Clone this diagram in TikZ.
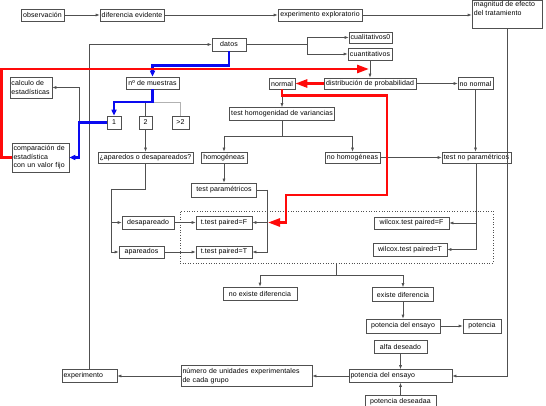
\documentclass[tikz,border=0pt]{standalone}
\usepackage{fontspec}
\setmainfont{Liberation Sans}[LetterSpace=1.5]
\usepackage{tikz}
\usetikzlibrary{arrows.meta}
\definecolor{cLine}{HTML}{505050}
\definecolor{cRed}{HTML}{FF0A0A}
\definecolor{cBlue}{HTML}{0A0AF0}

\begin{document}
\begin{tikzpicture}[x=1pt, y=-1pt,
  font=\fontsize{7}{8.5}\selectfont,
  box/.style={draw=cLine, line width=0.6pt, fill=white, align=center,
              font=\fontsize{7}{8.5}\selectfont, inner sep=1.5pt, minimum height=12pt},
  lbox/.style={box, align=left},
  ln/.style={cLine, line width=0.6pt},
  arr/.style={-{Latex[length=4pt,width=3pt]}, ln},
  redarr/.style={-{Triangle[length=12pt,width=8pt]}, cRed, line width=2.6pt},
  bluearr/.style={-{Triangle[length=6pt,width=5pt]}, cBlue, line width=2.6pt}]
\useasboundingbox (0,0) rectangle (546,406);
% top row
\node[box, minimum width=43pt] (obs) at (42.5,15) {observación};
\node[box, minimum width=64pt] (dif) at (132,15) {diferencia evidente};
\node[box, minimum width=84pt] (exp) at (320,15) {experimento exploratorio};
\node[box, minimum width=70pt, minimum height=28pt,
      label={[anchor=north west, align=left, inner sep=2pt]north west:magnitud de efecto\\del tratamiento}] (mag) at (507,14) {};
% data types
\node[box, minimum width=34pt, minimum height=13pt] (datos) at (229,44.5) {datos};
\node[box, minimum width=43pt, minimum height=11pt] (cual) at (370.5,37.5) {cualitativos0};
\node[box, minimum width=44pt] (cuant) at (370,54) {cuantitativos};
\node[lbox, text width=39pt, minimum height=21pt] (calc) at (31,87.5) {calculo de\\estadísticas};
\node[box, minimum width=53pt] (nmu) at (152.5,83) {nº de muestras};
\node[box, minimum width=26pt, minimum height=11pt] (normal) at (282,83.5) {normal};
\node[box, minimum width=92pt, minimum height=11pt] (dist) at (370,83.5) {distribución de probabilidad};
\node[box, minimum width=35pt] (nonormal) at (475.5,83.5) {no normal};
% samples
\node[box, minimum width=14pt, minimum height=13pt] (uno) at (114,122.5) {1};
\node[box, minimum width=13pt, minimum height=13pt] (dos) at (145.5,122.5) {2};
\node[box, minimum width=17pt, minimum height=13pt] (mas) at (180.5,122.5) {>2};
\node[box, minimum width=104pt, minimum height=13pt] (thv) at (282,114) {test homogenidad de variancias};
\node[lbox, text width=54pt, minimum height=29pt] (comp) at (40.5,157.5) {comparación de\\estadística\\con un valor fijo};
\node[box, minimum width=95pt, minimum height=11pt] (apa) at (145.5,157.5) {¿aparedos o desapareados?};
\node[box, minimum width=46pt, minimum height=11pt] (homo) at (224,157.5) {homogéneas};
\node[box, minimum width=55pt, minimum height=11pt] (nohomo) at (352.5,157.5) {no homogéneas};
\node[box, minimum width=69pt, minimum height=11pt] (tnp) at (476.5,157.5) {test no paramétricos};
\node[box, minimum width=65pt, minimum height=14pt] (tpar) at (224,190) {test paramétricos};
% tests
\node[draw=cLine, dotted, line width=0.6pt, minimum width=313pt, minimum height=52pt, inner sep=0pt] (grp) at (336.5,237) {};
\node[box, minimum width=52pt, minimum height=13pt] (desap) at (148,222.5) {desapareado};
\node[box, minimum width=56pt, minimum height=13pt] (ttF) at (224,222.5) {t.test paired=F};
\node[box, minimum width=75pt] (wF) at (411.5,223) {wilcox.test paired=F};
\node[box, minimum width=45pt] (apar) at (141.5,252) {apareados};
\node[box, minimum width=56pt] (ttT) at (224,252) {t.test paired=T};
\node[box, minimum width=74pt, minimum height=13pt] (wT) at (410,249.5) {wilcox.test paired=T};
% results
\node[box, minimum width=74pt, minimum height=13pt] (noex) at (260,293.5) {no existe diferencia};
\node[box, minimum width=61pt, minimum height=14pt] (ex) at (403,294.5) {existe diferencia};
\node[box, minimum width=74pt, minimum height=14pt] (pot1) at (403,326) {potencia del ensayo};
\node[box, minimum width=38pt, minimum height=14pt] (pot) at (482,326) {potencia};
\node[box, minimum width=53pt, minimum height=13pt] (alfa) at (400.5,346.5) {alfa deseado};
\node[lbox, text width=100pt, minimum height=13pt] (pot2) at (400.5,376) {potencia del ensayo};
\node[box, minimum width=71pt, minimum height=13pt] (potdes) at (400.5,401.5) {potencia deseadaa};
\node[lbox, text width=128pt, minimum height=21pt] (num) at (246.5,376) {número de unidades experimentales\\de cada grupo};
\node[lbox, text width=52pt, minimum height=13pt] (exper) at (89.5,376) {experimento};
% connectors
\foreach \a/\b in {obs/dif, dif/exp, cuant/dist, dist/nonormal, normal/thv, nohomo/tnp,
                   homo/tpar, dos/apa, desap/ttF, apar/ttT, ex/pot1, pot1/pot,
                   alfa/pot2, potdes/pot2, pot2/num, num/exper} \draw[arr] (\a) -- (\b);
\draw[arr] (exp.east) -- (exp.east -| mag.west);
\draw[arr] (mag.south) |- (pot2.east);
\draw[arr] (exper.north) |- (datos.west);
\coordinate (dj) at (307,44.5);
\draw[ln] (datos.east) -- (dj);
\draw[arr] (dj) |- (cual.west);
\draw[arr] (dj) |- (cuant.west);
\draw[arr] (nonormal.south) -- (nonormal.south |- tnp.north);
\coordinate (hj) at (282,136);
\draw[ln] (thv.south) -- (hj);
\draw[arr] (hj) -| (homo.north);
\draw[arr] (hj) -| (nohomo.north);
\draw[arr] (tnp.south) |- (wF.east);
\draw[arr] (tnp.south) |- (wT.east);
\coordinate (pj) at (267,190);
\draw[ln] (tpar.east) -- (pj);
\draw[arr] (pj) |- (ttF.east);
\draw[arr] (pj) |- (ttT.east);
\coordinate (aj) at (111,189);
\draw[ln] (apa.south) |- (aj);
\draw[arr] (aj) |- (desap.west);
\draw[arr] (aj) |- (apar.west);
\coordinate (mj) at (152.5,102);
\draw[ln] (mj -| dos.north) -- (dos.north);
\draw[ln, draw=gray!60] (mj) -| (mas.north);
\coordinate (uj) at (79,122.5);
\draw[arr] (uno.west) -- (uj) |- (calc.east);
\coordinate (gj) at (336.5,275);
\draw[ln] (grp.south) -- (gj);
\draw[arr] (gj) -| (noex.north);
\draw[arr] (gj) -| (ex.north);
% chosen path
\draw[bluearr] (datos.south) -- ++(0,14) -| (nmu.north);
\draw[bluearr] (nmu.south) -- (mj) -| (uno.north);
\draw[bluearr] (uno.west) -- (uj) |- (comp.east);
\coordinate (rtip) at (369,69);
\coordinate (rend) at (268,222.5);
\draw[redarr] (comp.west) -- ++(-10,0) |- (rtip);
\draw[redarr] (dist.west) -- (normal.east);
\draw[redarr] (normal.south) -- ++(0,6.5) -| (387,195) -| (286,222.5) -- (rend);
\end{tikzpicture}
\end{document}
